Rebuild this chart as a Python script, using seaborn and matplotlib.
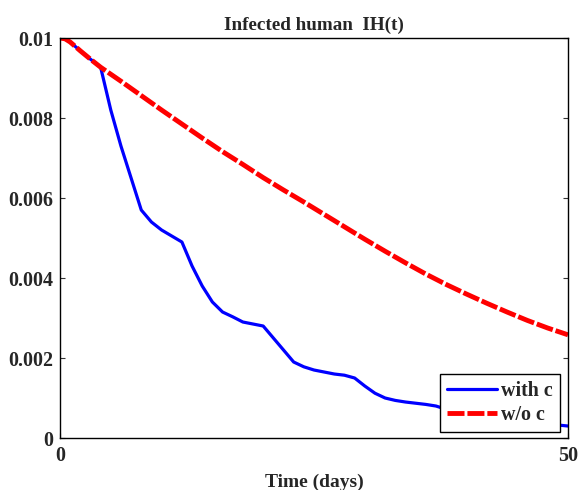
import numpy as np
import pandas as pd
import matplotlib
matplotlib.use("Agg")
import matplotlib.pyplot as plt
from matplotlib.lines import Line2D
import seaborn as sns

# Data
t_with = [0, 0.5, 1, 1.5, 2, 3, 4, 5, 6, 7, 8, 9, 10, 11, 12, 13, 14, 15, 16, 17, 18,
          19, 20, 21, 22, 23, 24, 25, 26, 27, 28, 29, 30, 31, 32, 33, 34, 35, 36, 37,
          38, 40, 42, 44, 46, 48, 50]
ih_with = [0.01, 0.00998, 0.0099, 0.00979, 0.00968, 0.00947, 0.00927, 0.0082, 0.0073,
           0.0065, 0.0057, 0.0054, 0.0052, 0.00505, 0.0049, 0.0043, 0.0038, 0.0034,
           0.00315, 0.00303, 0.0029, 0.00285, 0.0028, 0.0025, 0.0022, 0.0019, 0.00178,
           0.0017, 0.00165, 0.0016, 0.00157, 0.0015, 0.0013, 0.00112, 0.001, 0.00094,
           0.0009, 0.00087, 0.00084, 0.0008, 0.00072, 0.00062, 0.00053, 0.00046,
           0.0004, 0.00035, 0.0003]

t_without = [0, 0.5, 1, 1.5, 2, 3, 4, 6, 8, 10, 12, 14, 16, 18, 20, 22, 24, 26, 28, 30,
             32, 34, 36, 38, 40, 42, 44, 46, 48, 50]
ih_without = [0.01, 0.00998, 0.0099, 0.00979, 0.00968, 0.00947, 0.00927, 0.00892,
              0.00856, 0.0082, 0.00785, 0.0075, 0.00716, 0.00684, 0.00651, 0.0062,
              0.0059, 0.00559, 0.00528, 0.00497, 0.00467, 0.00438, 0.0041, 0.00384,
              0.0036, 0.00337, 0.00315, 0.00294, 0.00275, 0.00258]

series_names = ["with c", "w/o c"]
y_ticks = [0, 0.002, 0.004, 0.006, 0.008, 0.01]
y_tick_labels = ["0", "0.002", "0.004", "0.006", "0.008", "0.01"]
x_ticks = [0, 50]
x_tick_labels = ["0", "50"]

df = pd.concat([
    pd.DataFrame({"t": t_with, "IH": ih_with, "case": series_names[0]}),
    pd.DataFrame({"t": t_without, "IH": ih_without, "case": series_names[1]}),
], ignore_index=True)

sns.set_style("ticks")
plt.rcParams["font.family"] = ["Liberation Serif", "DejaVu Serif"]
plt.rcParams["font.weight"] = "bold"

BLUE = "#0000ff"
RED = "#ff0000"
RED_DASH = (3.5, 0.6)

fig = plt.figure(figsize=(5.79, 4.9), dpi=100)
ax = fig.add_axes([0.1036, 0.1061, 0.9810 - 0.1036, 0.9224 - 0.1061])

sns.lineplot(data=df, x="t", y="IH", hue="case", style="case",
             palette={"with c": BLUE, "w/o c": RED},
             dashes={"with c": "", "w/o c": RED_DASH},
             ax=ax, legend=False)
lines = ax.get_lines()
lines[0].set_linewidth(2.3)
lines[1].set_linewidth(3.5)

ax.set_xlim(0, 50)
ax.set_ylim(0, 0.01)
ax.set_xticks(x_ticks)
ax.set_xticklabels(x_tick_labels, fontsize=14.4, fontweight="bold")
ax.set_yticks(y_ticks)
ax.set_yticklabels(y_tick_labels, fontsize=14.4, fontweight="bold")
ax.tick_params(direction="in", length=3.8, width=0.8, right=True, top=False,
               color="#333333")
ax.tick_params(axis="y", pad=5.2)
ax.tick_params(axis="x", pad=6)
for s in ax.spines.values():
    s.set_linewidth(1.0)
    s.set_color("black")

ax.set_title("Infected human  IH(t)", fontsize=13.8, fontweight="bold", pad=6)
ax.set_xlabel("Time (days)", fontsize=14, fontweight="bold", labelpad=5)
ax.set_ylabel("")

handles = [Line2D([], [], color=BLUE, lw=2.3),
           Line2D([], [], color=RED, lw=3.5, dashes=RED_DASH)]
leg = ax.legend(handles, series_names, loc="lower right",
                bbox_to_anchor=(0.984, 0.015), frameon=True, fancybox=False,
                edgecolor="black", framealpha=1, prop={"size": 14.4, "weight": "bold"},
                borderaxespad=0.0, handlelength=2.5, handletextpad=0.2,
                borderpad=0.35, labelspacing=0.2)
leg.get_frame().set_linewidth(1.0)

fig.savefig("out.png", dpi=100)
